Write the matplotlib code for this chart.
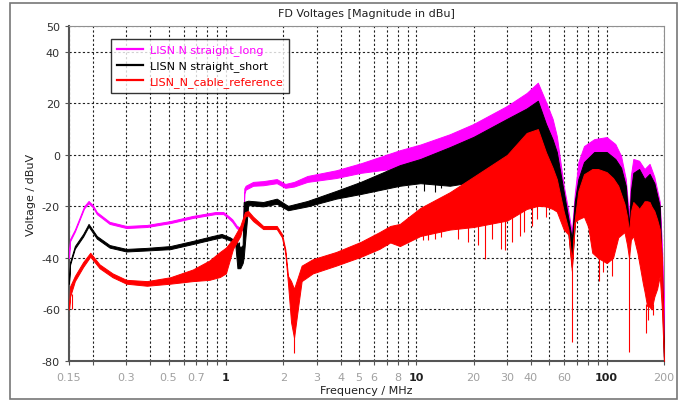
import matplotlib
matplotlib.use('Agg')
import matplotlib.pyplot as plt
from matplotlib.lines import Line2D
from matplotlib.patches import Rectangle
import numpy as np

plt.rcParams['font.family'] = ['DejaVu Sans']
plt.rcParams['axes.unicode_minus'] = False

# ---- LISN N straight_long (magenta): frequency [MHz], band top / bottom [dBuV]
f_long = [0.15, 0.152, 0.161, 0.172, 0.18, 0.19, 0.2, 0.21, 0.245, 0.3,
          0.385, 0.51, 0.67, 0.88, 0.97, 1.03, 1.08, 1.14, 1.2, 1.235,
          1.25, 1.27, 1.39, 1.57, 1.85, 2.05, 2.28, 2.68, 3.79, 5.1,
          8.2, 10.5, 15, 20, 30, 38, 43.5, 48, 52, 54.7,
          59.5, 63, 65.6, 68, 71, 76, 86, 100, 111, 119,
          126, 131, 134, 138, 148, 158, 168, 178, 190, 195, 198, 200]
hi_long = [-38, -32.6, -29, -23.7, -20, -17.9, -19.5, -22.2, -26, -27.6,
           -27.2, -25.7, -23.7, -22.2, -22.2, -23.7, -25, -27.5, -28.5, -28,
           -13, -12, -10.5, -10.2, -9.4, -11.3, -10.5, -8.2, -6, -3.3,
           1.8, 4, 8, 12, 19, 24, 28, 20.5, 14, 7.3,
           -12, -22, -30, -15, -2.8, 3.4, 6.1, 6.9, 4.2, -0.4,
           -9.4, -23.7, -8, -1.6, -2.3, -5.5, -3.5, -8.6, -18.3, -35, -49, -55]
lo_long = [-40, -33.5, -29.8, -24.5, -20.8, -18.8, -20.3, -23, -26.8, -28.4,
           -28, -26.5, -24.5, -23, -23, -24.5, -26, -28.5, -29.3, -29,
           -15, -13.5, -12, -11.8, -11, -12.8, -12.3, -10.5, -9, -7,
           -5, -2.5, 2, 6, 13, 17, 20, 11, 5, 0,
           -15.4, -26, -33.6, -19, -10.4, -3.8, 0, 0, -2.6, -6,
           -13, -28.6, -15, -8, -6.5, -10.4, -8.4, -12, -21, -46, -61, -80]

# ---- LISN N straight_short (black)
f_short = [0.15, 0.152, 0.161, 0.178, 0.19, 0.21, 0.245, 0.3, 0.385, 0.51,
           0.67, 0.85, 0.95, 1.05, 1.12, 1.15, 1.19, 1.225, 1.24, 1.31,
           1.57, 1.85, 2.12, 2.68, 3.79, 5.1, 8.2, 10.5, 15, 20,
           30, 38, 43.5, 48, 52, 54.7, 59.5, 63, 65.6, 68,
           71, 76, 86, 100, 111, 119, 126, 131, 134, 138,
           148, 158, 168, 178, 190, 195, 198, 200]
hi_short = [-49, -41.6, -35.4, -30.7, -26.8, -31.5, -35, -36.5, -36.1, -35.4,
            -33.4, -31.5, -30.7, -32, -33.4, -34, -36, -35, -18.3, -17.8,
            -18.3, -17, -19.8, -17.9, -14, -10.5, -4, -1.6, 3, 7,
            14, 18, 21, 12, 6, 1.1, -14.4, -25, -32.6, -18,
            -9.4, -2.8, 1.1, 1.1, -1.6, -5, -12, -27.6, -14, -7,
            -5.5, -9.4, -7.4, -11, -20, -45, -60, -80]
lo_short = [-50, -42.6, -36.4, -31.7, -27.8, -32.5, -36, -37.5, -37.1, -36.6,
            -34.6, -32.8, -32, -33.2, -34.6, -44, -44, -42, -40, -19.5,
            -20, -19, -21.5, -20, -17, -15.2, -12, -11, -12, -10.5,
            -2, 6.5, 8, -1, -7, -11.4, -24, -31, -43.6, -27,
            -18, -11, -7.5, -8.7, -12, -17, -23, -32, -24, -20.3,
            -23, -20, -20.3, -23.8, -30.8, -50, -70, -80]

# ---- LISN_N_cable_reference (red)
f_ref = [0.15, 0.152, 0.161, 0.178, 0.194, 0.217, 0.254, 0.3, 0.385, 0.51,
         0.67, 0.82, 0.93, 1.0, 1.09, 1.19, 1.26, 1.31, 1.39, 1.57,
         1.85, 1.97, 2.05, 2.12, 2.2, 2.28, 2.4, 2.5, 2.86, 3.79,
         5.1, 6.4, 7.3, 8.2, 10.5, 15, 20, 30, 38, 43.5,
         48, 52, 54.7, 59.5, 63, 65.6, 68, 71, 76, 80,
         84, 90, 100, 108, 115, 124, 128, 131, 134, 138,
         145, 148, 155, 158, 163, 168, 172, 178, 184, 190, 195, 200]
hi_ref = [-60, -51, -47, -41.6, -38, -42.5, -46, -48.5, -49, -47.5,
          -44.5, -41, -37.7, -36, -32.6, -27.6, -22.2, -21.8, -24, -27.6,
          -27.6, -30.7, -36.5, -47, -49, -52, -47, -43, -40.5, -37.7,
          -33.8, -30, -27.6, -26.8, -20.6, -14.5, -8.5, 0, 8.5, 10,
          1, -5, -9.4, -22, -29, -41.6, -25, -14, -7.5, -6.5,
          -5.5, -5.5, -6.7, -9, -12, -19, -24, -30, -22, -18.3,
          -20, -21, -19, -18, -18, -18.3, -20, -21.8, -25, -28.8, -40, -80]
lo_ref = [-60, -55, -49, -43.5, -39.5, -44, -47.5, -50, -50.8, -50,
          -49, -48.5, -47.4, -46, -36.5, -31.5, -24, -23.5, -25.7, -28.8,
          -28.8, -32, -38, -50, -65, -71, -58.6, -49, -46, -43,
          -39.6, -36.5, -34, -35.4, -31.5, -29, -28, -25.5, -21, -19.8,
          -20, -21, -22, -29, -31, -45, -26, -25, -24, -28,
          -38, -40, -42, -40, -32, -30, -35, -40, -33, -31.5,
          -38, -41.6, -50, -53, -58.6, -59, -60, -55, -52, -47, -60, -80]

# downward spikes: frequency, spike bottom, spike top
spk_f = [0.155, 2.28, 10.8, 11.5, 12.5, 13.5, 16.6, 18.7, 21, 23, 25, 27.8, 29.3, 31.7,
         35, 37, 40.5, 43, 48, 65.6, 91, 96, 107, 131, 160, 165, 175]
spk_lo = [-60, -77, -33, -33, -32.5, -32, -32.6, -33.8, -35, -40.4, -32.6, -36.5, -37, -34,
          -31.5, -30, -27.6, -25, -24, -72.6, -49, -45.6, -47, -76.5, -69, -64, -62]
spk_hi = [-54, -65, -29, -29, -28, -28, -27, -27, -26, -26, -25, -24, -24, -24,
          -22, -21, -20, -19, -19, -44, -40, -40, -39, -38, -58, -58, -58]
bspk_f = [11, 12.5, 13.5, 1.17]
bspk_lo = [-14, -14.5, -13, -44]
bspk_hi = [-10, -10, -9, -34]

x_ticks = [0.15, 0.3, 0.5, 0.7, 1, 2, 3, 4, 5, 6, 8, 10, 20, 30, 40, 60, 100, 200]
x_ticklabels = ['0.15', '0.3', '0.5', '0.7', '1', '2', '3', '4', '5', '6', '8', '10',
                '20', '30', '40', '60', '100', '200']
y_ticks = [-80, -60, -40, -20, 0, 20, 40, 50]

fig = plt.figure(figsize=(6.84, 4.02), dpi=100)
ax = fig.add_axes([69/684, 1-362/402, 595/684, 335/402])

series = [(f_long, hi_long, lo_long, '#ff00ff'),
          (f_short, hi_short, lo_short, '#000000'),
          (f_ref, hi_ref, lo_ref, '#ff0000')]
for f, hi, lo, c in series:
    ax.fill_between(f, lo, hi, color=c, lw=0.7, edgecolor=c, zorder=3)
    if c == '#000000':
        ax.vlines(bspk_f, bspk_lo, bspk_hi, color=c, lw=0.8, zorder=3)
ax.vlines(spk_f, spk_lo, spk_hi, color='#ff0000', lw=0.8, zorder=3)

ax.set_xscale('log')
ax.set_xlim(0.15, 200)
ax.set_ylim(-80, 50)
ax.set_xticks(x_ticks)
ax.set_xticklabels(x_ticklabels)
ax.set_yticks(y_ticks)
ax.set_yticklabels([str(v) for v in y_ticks])
minor = [v for d in [0.1, 1, 10] for v in np.arange(2, 10) * d]
ax.set_xticks([m for m in minor if 0.15 < m < 200 and round(m, 3) not in x_ticks], minor=True)

ax.grid(True, which='both', axis='x', color='#202020', ls=(0, (2, 2)), lw=0.8, zorder=1)
ax.grid(True, which='major', axis='y', color='#202020', ls=(0, (2, 2)), lw=0.8, zorder=1)
ax.tick_params(which='both', direction='out', length=3, width=0.8, color='#555555', labelsize=8)
ax.tick_params(axis='x', pad=5)
for lab, t in zip(ax.get_xticklabels(), x_ticks):
    if t in (1, 10, 100):
        lab.set_color('#202020')
        lab.set_fontweight('bold')
    else:
        lab.set_color('#a0a0a0')
for lab in ax.get_yticklabels():
    lab.set_color('#303030')

for s in ['left', 'bottom']:
    ax.spines[s].set_color('#555555')
    ax.spines[s].set_linewidth(1.5)
for s in ['top', 'right']:
    ax.spines[s].set_color('#909090')
    ax.spines[s].set_linewidth(0.8)

ax.set_xlabel('Frequency / MHz', fontsize=8, color='#202020', labelpad=2)
ax.set_ylabel('Voltage / dBuV', fontsize=8, color='#202020', labelpad=4)
fig.text(366/684, 1-14/402, 'FD Voltages [Magnitude in dBu]', ha='center', va='center',
         fontsize=8, color='#202020')

handles = [Line2D([], [], color=c, lw=1.6) for c in ['#ff00ff', '#000000', '#ff0000']]
names = ['LISN N straight_long', 'LISN N straight_short', 'LISN_N_cable_reference']
leg = ax.legend(handles, names, loc='upper left', bbox_to_anchor=(42/595, 1-13/335),
                borderaxespad=0, fontsize=8, handlelength=2.4, frameon=True, fancybox=False,
                labelspacing=0.45, borderpad=0.5, handletextpad=0.6)
leg.get_frame().set_edgecolor('#000000')
leg.get_frame().set_linewidth(1.0)
leg.set_zorder(5)
for txt, c in zip(leg.get_texts(), ['#ff00ff', '#000000', '#ff0000']):
    txt.set_color(c)

fig.patches.append(Rectangle((10/684, 2/402), 667/684, 396/402, transform=fig.transFigure,
                             fill=False, edgecolor='#777777', lw=1.2))

fig.savefig('out.png', dpi=100)
